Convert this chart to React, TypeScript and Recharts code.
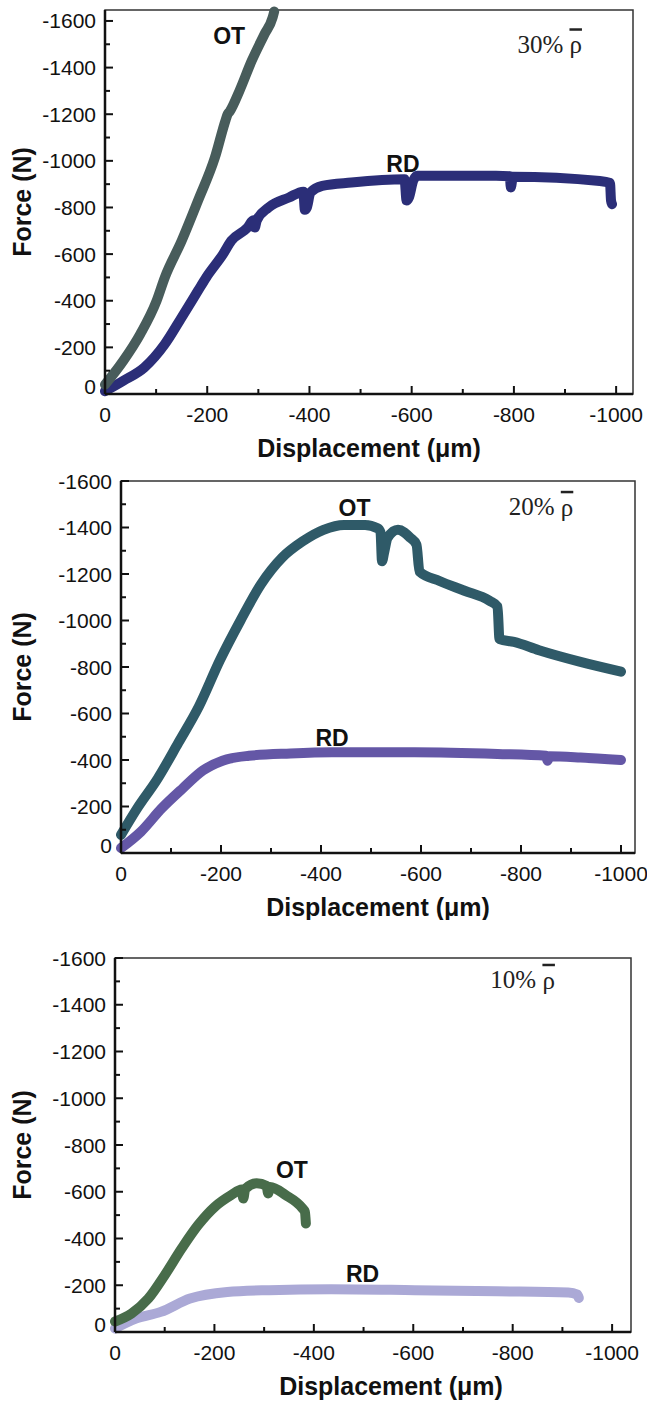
import { LineChart, Line, XAxis, YAxis, ReferenceArea, ReferenceDot, Label } from 'recharts'

const SANS = '"Liberation Sans", Arial, Helvetica, sans-serif'
const SERIF = '"Liberation Serif", "Times New Roman", serif'
const INK = '#111'

// displacement (um) / force (N)
const OT30_DISP = [0, -36, -69, -101, -117, -150, -182, -215, -236, -240, -244, -263, -287, -312, -328, -331]
const OT30_FORCE = [-40, -143, -257, -400, -500, -657, -829, -1014, -1175, -1200, -1212, -1300, -1429, -1543, -1615, -1640]
const RD30_DISP = [0, -36, -77, -117, -150, -182, -198, -231, -247, -279, -290, -293, -297, -320, -360, -388, -391, -395, -402, -425, -482, -586, -590, -595, -603, -611, -765, -792, -794, -798, -968, -988, -990, -992]
const RD30_FORCE = [-12, -57, -114, -214, -329, -443, -500, -600, -657, -714, -745, -714, -745, -800, -843, -868, -790, -800, -865, -893, -907, -921, -830, -845, -915, -936, -936, -934, -886, -932, -914, -905, -830, -814]

const OT20_DISP = [0, -32, -73, -115, -156, -198, -239, -280, -322, -363, -405, -446, -488, -513, -519, -522, -527, -533, -554, -579, -591, -597, -637, -687, -737, -753, -757, -786, -836, -917, -1000]
const OT20_FORCE = [-78, -191, -319, -475, -631, -830, -1000, -1156, -1270, -1340, -1390, -1411, -1411, -1397, -1380, -1255, -1300, -1355, -1390, -1355, -1326, -1210, -1170, -1128, -1085, -1060, -920, -908, -872, -823, -780]
const RD20_DISP = [0, -40, -81, -123, -164, -203, -256, -339, -422, -587, -753, -850, -853, -857, -919, -1000]
const RD20_FORCE = [-21, -92, -191, -277, -355, -397, -418, -428, -433, -433, -426, -418, -397, -416, -411, -400]

const OT10_DISP = [0, -33, -67, -100, -134, -167, -201, -234, -255, -258, -262, -285, -305, -308, -312, -343, -377, -382, -384]
const OT10_FORCE = [-45, -79, -143, -243, -357, -457, -536, -586, -610, -571, -612, -636, -625, -593, -620, -586, -529, -514, -464]
const RD10_DISP = [0, -42, -92, -151, -226, -310, -435, -603, -770, -912, -930, -933]
const RD10_FORCE = [-15, -57, -86, -143, -171, -179, -183, -179, -174, -169, -160, -146]

const DENSITIES = ['30%', '20%', '10%']
const X_TICKS = [0, -100, -200, -300, -400, -500, -600, -700, -800, -900, -1000]
const Y_TICKS = [0, -100, -200, -300, -400, -500, -600, -700, -800, -900, -1000, -1100, -1200, -1300, -1400, -1500, -1600]

const zip = (xs: number[], ys: number[]) => xs.map((d, i) => ({ disp: d, force: ys[i] }))

const panels = [
  {
    ot: zip(OT30_DISP, OT30_FORCE), rd: zip(RD30_DISP, RD30_FORCE),
    otColor: '#485c5b', rdColor: '#2b2e78', density: DENSITIES[0],
    xMin: -1033, yMin: -1647, height: 470,
    margin: { top: 10, right: 14, left: 45, bottom: 36 },
    otAt: [-243, -1536], rdAt: [-583, -986], densAt: [-870, -1500], titleDx: 0,
  },
  {
    ot: zip(OT20_DISP, OT20_FORCE), rd: zip(RD20_DISP, RD20_FORCE),
    otColor: '#2f5a68', rdColor: '#6457a6', density: DENSITIES[1],
    xMin: -1028, yMin: -1600, height: 450,
    margin: { top: 11, right: 12, left: 61, bottom: 27 },
    otAt: [-467, -1482], rdAt: [-422, -496], densAt: [-840, -1489], titleDx: 0,
  },
  {
    ot: zip(OT10_DISP, OT10_FORCE), rd: zip(RD10_DISP, RD10_FORCE),
    otColor: '#486c4a', rdColor: '#aba9d6', density: DENSITIES[2],
    xMin: -1038, yMin: -1600, height: 482,
    margin: { top: 38, right: 16, left: 55, bottom: 30 },
    otAt: [-356, -693], rdAt: [-498, -250], densAt: [-820, -1507], titleDx: 18,
  },
]

function XTick({ x, y, payload }: any) {
  const major = payload.value % 200 === 0
  return (
    <g>
      <line x1={x} x2={x} y1={y} y2={y - (major ? 8 : 5)} stroke={INK} strokeWidth={2} />
      {major && (
        <text x={x} y={y + 20} textAnchor="middle" dominantBaseline="central" fontSize={21} fontFamily={SANS} fill={INK}>
          {payload.value}
        </text>
      )}
    </g>
  )
}

function YTick({ x, y, payload }: any) {
  const v = payload.value
  const major = v % 200 === 0
  return (
    <g>
      <line x1={x} x2={x + (major ? 8 : 5)} y1={y} y2={y} stroke={INK} strokeWidth={2} />
      {major && (
        <text x={x - 9} y={v === 0 ? y - 8 : y} textAnchor="end" dominantBaseline="central" fontSize={21} fontFamily={SANS} fill={INK}>
          {v}
        </text>
      )}
    </g>
  )
}

const curveLabel = (text: string) => (p: any) => (
  <text x={p.cx} y={p.cy} textAnchor="middle" dominantBaseline="central" fontSize={23} fontWeight="bold" fontFamily={SANS} fill={INK}>
    {text}
  </text>
)

const densityLabel = (pct: string) => (p: any) => (
  <text x={p.cx} y={p.cy} textAnchor="middle" dominantBaseline="central" fontSize={25} fontFamily={SERIF} fill="#222">
    {pct} <tspan style={{ textDecoration: 'overline' }}>ρ</tspan>
  </text>
)

function Panel({ cfg }: any) {
  const xTitle = (props: any) => {
    const vb = props.viewBox || {}
    return (
      <text x={vb.x + vb.width / 2 + cfg.titleDx} y={vb.y + 54} textAnchor="middle" dominantBaseline="central" fontSize={25} fontWeight="bold" fontFamily={SANS} fill={INK}>
        Displacement (μm)
      </text>
    )
  }
  const yTitle = (props: any) => {
    const vb = props.viewBox || {}
    const cx = 22
    const cy = vb.y + vb.height / 2
    return (
      <text x={cx} y={cy} transform={`rotate(-90, ${cx}, ${cy})`} textAnchor="middle" dominantBaseline="central" fontSize={25} fontWeight="bold" fontFamily={SANS} fill={INK}>
        Force (N)
      </text>
    )
  }

  return (
    <LineChart width={647} height={cfg.height} margin={cfg.margin}>
      <XAxis
        type="number" dataKey="disp" reversed domain={[cfg.xMin, 0]} ticks={X_TICKS} interval={0}
        tick={<XTick />} tickLine={false} tickSize={0} tickMargin={0} height={40}
        axisLine={{ stroke: INK, strokeWidth: 2.5 }}
      >
        <Label content={xTitle} />
      </XAxis>
      <YAxis
        type="number" dataKey="force" reversed domain={[cfg.yMin, 0]} ticks={Y_TICKS} interval={0}
        tick={<YTick />} tickLine={false} tickSize={0} tickMargin={0} width={60}
        axisLine={{ stroke: INK, strokeWidth: 2.5 }}
      >
        <Label content={yTitle} />
      </YAxis>
      <ReferenceArea x1={cfg.xMin} x2={0} y1={cfg.yMin} y2={0} fill="none" stroke="#333" strokeWidth={1.5} />
      <Line data={cfg.rd} dataKey="force" type="monotone" stroke={cfg.rdColor} strokeWidth={10} strokeLinecap="round" strokeLinejoin="round" dot={false} isAnimationActive={false} />
      <Line data={cfg.ot} dataKey="force" type="monotone" stroke={cfg.otColor} strokeWidth={10} strokeLinecap="round" strokeLinejoin="round" dot={false} isAnimationActive={false} />
      <ReferenceDot x={cfg.otAt[0]} y={cfg.otAt[1]} r={0} shape={curveLabel('OT')} />
      <ReferenceDot x={cfg.rdAt[0]} y={cfg.rdAt[1]} r={0} shape={curveLabel('RD')} />
      <ReferenceDot x={cfg.densAt[0]} y={cfg.densAt[1]} r={0} shape={densityLabel(cfg.density)} />
    </LineChart>
  )
}

export default function App() {
  return (
    <div style={{ position: 'absolute', left: 0, top: 0, width: 647, background: '#fff' }}>
      {panels.map((p, i) => (
        <Panel key={i} cfg={p} />
      ))}
    </div>
  )
}
